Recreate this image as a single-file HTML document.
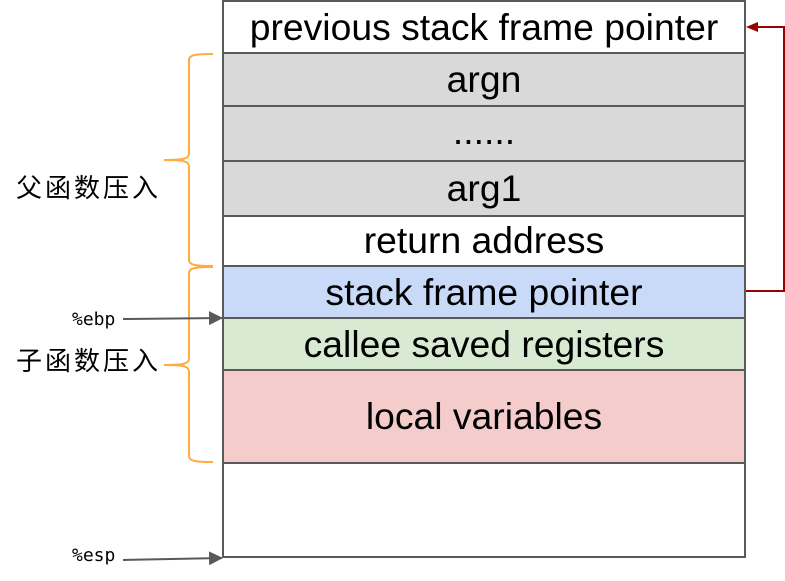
<!DOCTYPE html>
<html><head><meta charset="utf-8"><style>
html,body{margin:0;padding:0;background:#fff;width:785px;height:581px;overflow:hidden}
svg{display:block}
.t{font-family:"Liberation Sans",Arial,sans-serif;font-size:37.3px;fill:#000;text-anchor:middle}
.c{font-family:"Liberation Sans","Noto Sans CJK SC",sans-serif;font-size:26px;fill:#000;letter-spacing:3px}
.m{font-family:"DejaVu Sans Mono","Liberation Mono",monospace;font-size:18px;fill:#000}
</style></head><body>
<svg width="785" height="581" viewBox="0 0 785 581" xmlns="http://www.w3.org/2000/svg">
<defs>
<marker id="ag" markerWidth="14" markerHeight="14" refX="13" refY="7" orient="auto" markerUnits="userSpaceOnUse"><path d="M0,0 L14,7 L0,14 z" fill="#595959"/></marker>
</defs>
<g stroke="#595959" stroke-width="2">
<rect x="223" y="1" width="522" height="52" fill="#fff"/>
<rect x="223" y="53" width="522" height="53" fill="#d9d9d9"/>
<rect x="223" y="106" width="522" height="55" fill="#d9d9d9"/>
<rect x="223" y="161" width="522" height="55" fill="#d9d9d9"/>
<rect x="223" y="216" width="522" height="50" fill="#fff"/>
<rect x="223" y="266" width="522" height="52" fill="#c9daf8"/>
<rect x="223" y="318" width="522" height="52" fill="#d9ead3"/>
<rect x="223" y="370" width="522" height="93" fill="#f4cccc"/>
<rect x="223" y="463" width="522" height="94" fill="#fff"/>
</g>
<text class="t" x="484" y="40">previous stack frame pointer</text>
<text class="t" x="484" y="92">argn</text>
<text class="t" x="484" y="144">......</text>
<text class="t" x="484" y="201">arg1</text>
<text class="t" x="484" y="253">return address</text>
<text class="t" x="484" y="305">stack frame pointer</text>
<text class="t" x="484" y="357">callee saved registers</text>
<text class="t" x="484" y="429">local variables</text>
<path d="M746,291 H784 V27 H756" fill="none" stroke="#990000" stroke-width="2"/>
<path d="M746,27 L758,22 L758,32 z" fill="#990000"/>
<g fill="none" stroke="#ffab40" stroke-width="2">
<path d="M213,54 C195,54 189,55 189,60 V153 C189,159 184,160 164,160 C184,160 189,161 189,167 V260 C189,265 195,266 213,266"/>
<path d="M213,267 C195,267 189,268 189,273 V358 C189,364 184,365 164,365 C184,365 189,366 189,372 V456 C189,461 195,462 213,462"/>
</g>
<text class="c" x="16" y="197">父函数压入</text>
<text class="c" x="16" y="370">子函数压入</text>
<text class="m" x="72" y="325">%ebp</text>
<text class="m" x="72" y="561">%esp</text>
<line x1="123" y1="319" x2="222" y2="318" stroke="#595959" stroke-width="2" marker-end="url(#ag)"/>
<line x1="123" y1="560" x2="222" y2="558" stroke="#595959" stroke-width="2" marker-end="url(#ag)"/>
</svg>
</body></html>
